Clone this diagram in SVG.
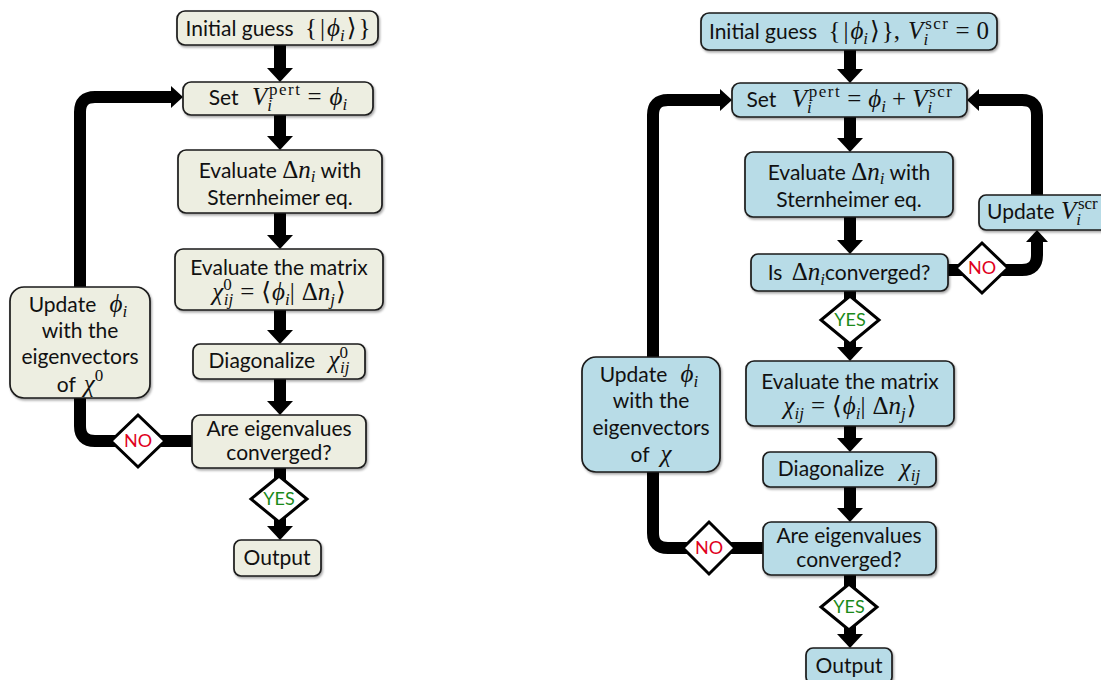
<svg xmlns="http://www.w3.org/2000/svg" width="1101" height="680" viewBox="0 0 1101 680">
<style>
.t{font-family:Lato,"Liberation Sans",sans-serif;font-size:21px;fill:#111}
.c{text-anchor:middle}
.mi{font-family:"Liberation Serif","DejaVu Serif",serif;font-style:italic;font-size:25px}
.mr{font-family:"Liberation Serif","DejaVu Serif",serif;font-style:normal;font-size:25px}
.sm{font-size:17px}
.ls{letter-spacing:1.5px}
.bl{fill:#EDEEE1;stroke:#1a1a1a;stroke-width:1.7;filter:url(#sh)}
.br{fill:#B8DCE7;stroke:#1a1a1a;stroke-width:1.7;filter:url(#sh)}
.ln{fill:none;stroke:#000;stroke-width:12;stroke-linejoin:round}
.dm{fill:#fff;stroke:#000;stroke-width:3;stroke-linejoin:miter}
.yes{font-family:Lato,"Liberation Sans",sans-serif;font-size:18px;fill:#1A8A1A;text-anchor:middle}
.no{font-family:Lato,"Liberation Sans",sans-serif;font-size:18px;fill:#E0001B;text-anchor:middle}
</style>
<defs>
<filter id="sh" x="-10%" y="-10%" width="125%" height="140%"><feDropShadow dx="1.2" dy="1.8" stdDeviation="0.9" flood-color="#000" flood-opacity="0.35"/></filter>
<marker id="ah" markerUnits="userSpaceOnUse" markerWidth="14" markerHeight="26" viewBox="0 0 14 26" refX="1" refY="13" orient="auto"><path d="M0,0 L14,13 L0,26 Z" fill="#000"/></marker>
<marker id="as" markerUnits="userSpaceOnUse" markerWidth="12" markerHeight="22" viewBox="0 0 12 22" refX="1" refY="11" orient="auto"><path d="M0,0 L12,11 L0,22 Z" fill="#000"/></marker>
</defs>

<g id="connectors">
  <!-- left chart -->
  <path class="ln" d="M280,45 V69" marker-end="url(#ah)"/>
  <path class="ln" d="M280,115 V137" marker-end="url(#ah)"/>
  <path class="ln" d="M280,213 V236" marker-end="url(#ah)"/>
  <path class="ln" d="M280,310 V331" marker-end="url(#ah)"/>
  <path class="ln" d="M280,379 V402" marker-end="url(#ah)"/>
  <path class="ln" d="M280,468 V485"/>
  <path class="ln" d="M280,515 V527" marker-end="url(#ah)"/>
  <path class="ln" d="M193,441 H95 Q80,441 80,426 V396"/>
  <path class="ln" d="M80,289 V112 Q80,97 95,97 H172" marker-end="url(#as)"/>
  <!-- right chart -->
  <path class="ln" d="M850,50 V70" marker-end="url(#ah)"/>
  <path class="ln" d="M850,117 V139" marker-end="url(#ah)"/>
  <path class="ln" d="M850,217 V241" marker-end="url(#ah)"/>
  <path class="ln" d="M850,291 V305"/>
  <path class="ln" d="M850,335 V348" marker-end="url(#ah)"/>
  <path class="ln" d="M850,426 V439" marker-end="url(#ah)"/>
  <path class="ln" d="M850,487 V509" marker-end="url(#ah)"/>
  <path class="ln" d="M850,575 V592"/>
  <path class="ln" d="M850,622 V635" marker-end="url(#ah)"/>
  <path class="ln" d="M764,548 H668 Q653,548 653,533 V470"/>
  <path class="ln" d="M653,359 V115 Q653,100 668,100 H721" marker-end="url(#as)"/>
  <path class="ln" d="M947,270 H1022 Q1037,270 1037,255 V241" marker-end="url(#as)"/>
  <path class="ln" d="M1037,197 V115 Q1037,100 1022,100 H978" marker-end="url(#as)"/>
</g>

<!-- left chart nodes -->
<g id="L-init">
  <rect class="bl" x="177" y="11" width="201" height="34" rx="8"/>
  <text class="t c" x="278" y="36">Initial guess <tspan class="mr" dx="6">{</tspan><tspan class="mr" dx="3">|</tspan><tspan class="mi" dx="2">ϕ</tspan><tspan class="mi sm" dy="5">i</tspan><tspan class="mr" dy="-5" dx="2">⟩</tspan><tspan class="mr" dx="2">}</tspan></text>
</g>
<g id="L-set">
  <rect class="bl" x="183" y="82" width="190" height="33" rx="8"/>
  <text class="t c" x="278" y="105">Set <tspan class="mi" dx="8">V</tspan><tspan class="mi sm" dy="6">i</tspan><tspan class="mr sm ls" dx="-3" dy="-16">pert</tspan><tspan class="mr" dx="6" dy="10">=</tspan><tspan class="mi" dx="8">ϕ</tspan><tspan class="mi sm" dy="5">i</tspan></text>
</g>
<g id="L-eval-dn">
  <rect class="bl" x="178" y="150" width="204" height="63" rx="8"/>
  <text class="t c" x="280" y="178">Evaluate <tspan class="mr">Δ</tspan><tspan class="mi">n</tspan><tspan class="mi sm" dy="4">i</tspan><tspan dy="-4"> with</tspan></text>
  <text class="t c" x="280" y="205">Sternheimer eq.</text>
</g>
<g id="L-eval-chi">
  <rect class="bl" x="175" y="249" width="208" height="61" rx="8"/>
  <text class="t c" x="279" y="275">Evaluate the matrix</text>
  <text class="t c" x="279" y="300"><tspan class="mi">χ</tspan><tspan class="mr sm" dy="-10">0</tspan><tspan class="mi sm" dx="-8" dy="15">ij</tspan><tspan class="mr" dx="7" dy="-5">=</tspan><tspan class="mr" dx="7">⟨</tspan><tspan class="mi" dx="1">ϕ</tspan><tspan class="mi sm" dy="5">i</tspan><tspan class="mr" dy="-5">|</tspan><tspan class="mr" dx="7">Δ</tspan><tspan class="mi">n</tspan><tspan class="mi sm" dy="5">j</tspan><tspan class="mr" dy="-5" dx="1">⟩</tspan></text>
</g>
<g id="L-diag">
  <rect class="bl" x="193" y="344" width="172" height="35" rx="7"/>
  <text class="t c" x="279" y="368">Diagonalize <tspan class="mi" dx="8">χ</tspan><tspan class="mr sm" dy="-10">0</tspan><tspan class="mi sm" dx="-8" dy="15">ij</tspan></text>
</g>
<g id="L-conv">
  <rect class="bl" x="192" y="415" width="174" height="53" rx="8"/>
  <text class="t c" x="279" y="436">Are eigenvalues</text>
  <text class="t c" x="279" y="460">converged?</text>
</g>
<g id="L-out">
  <rect class="bl" x="234" y="540" width="87" height="36" rx="7"/>
  <text class="t c" x="277" y="565">Output</text>
</g>
<g id="L-update">
  <rect class="bl" x="10" y="287" width="140" height="111" rx="14"/>
  <text class="t c" x="78" y="312">Update <tspan class="mi" dx="8">ϕ</tspan><tspan class="mi sm" dy="5">i</tspan></text>
  <text class="t c" x="80" y="338">with the</text>
  <text class="t c" x="80" y="364">eigenvectors</text>
  <text class="t c" x="80" y="392">of <tspan class="mi" dx="3">χ</tspan><tspan class="mr sm" dy="-11">0</tspan></text>
</g>
<g id="L-yes">
  <polygon class="dm" points="279,476 307,499 279,522 251,499"/>
  <text class="yes" x="279" y="505">YES</text>
</g>
<g id="L-no">
  <polygon class="dm" points="138,415 165,441 138,467 111,441"/>
  <text class="no" x="138" y="447">NO</text>
</g>

<!-- right chart nodes -->
<g id="R-init">
  <rect class="br" x="701" y="13" width="296" height="37" rx="8"/>
  <text class="t c" x="849" y="39">Initial guess <tspan class="mr" dx="6">{</tspan><tspan class="mr" dx="3">|</tspan><tspan class="mi" dx="2">ϕ</tspan><tspan class="mi sm" dy="5">i</tspan><tspan class="mr" dy="-5" dx="2">⟩</tspan><tspan class="mr" dx="2">},</tspan><tspan class="mi" dx="8">V</tspan><tspan class="mi sm" dy="6">i</tspan><tspan class="mr sm ls" dx="-3" dy="-16">scr</tspan><tspan class="mr" dx="6" dy="10">=</tspan><tspan class="mr" dx="7">0</tspan></text>
</g>
<g id="R-set">
  <rect class="br" x="732" y="83" width="235" height="34" rx="8"/>
  <text class="t c" x="850" y="107">Set <tspan class="mi" dx="10">V</tspan><tspan class="mi sm" dy="6">i</tspan><tspan class="mr sm ls" dx="-3" dy="-16">pert</tspan><tspan class="mr" dx="6" dy="10">=</tspan><tspan class="mi" dx="7">ϕ</tspan><tspan class="mi sm" dy="5">i</tspan><tspan class="mr" dx="6" dy="-5">+</tspan><tspan class="mi" dx="6">V</tspan><tspan class="mi sm" dy="6">i</tspan><tspan class="mr sm ls" dx="-3" dy="-16">scr</tspan></text>
</g>
<g id="R-eval-dn">
  <rect class="br" x="745" y="152" width="208" height="65" rx="8"/>
  <text class="t c" x="849" y="180">Evaluate <tspan class="mr">Δ</tspan><tspan class="mi">n</tspan><tspan class="mi sm" dy="4">i</tspan><tspan dy="-4"> with</tspan></text>
  <text class="t c" x="849" y="207">Sternheimer eq.</text>
</g>
<g id="R-conv-dn">
  <rect class="br" x="751" y="254" width="197" height="37" rx="7"/>
  <text class="t c" x="849" y="280">Is <tspan class="mr" dx="4">Δ</tspan><tspan class="mi">n</tspan><tspan class="mi sm" dy="5">i</tspan><tspan dy="-5">converged?</tspan></text>
</g>
<g id="R-eval-chi">
  <rect class="br" x="746" y="361" width="208" height="65" rx="8"/>
  <text class="t c" x="850" y="389">Evaluate the matrix</text>
  <text class="t c" x="850" y="414"><tspan class="mi">χ</tspan><tspan class="mi sm" dy="5">ij</tspan><tspan class="mr" dx="7" dy="-5">=</tspan><tspan class="mr" dx="7">⟨</tspan><tspan class="mi" dx="1">ϕ</tspan><tspan class="mi sm" dy="5">i</tspan><tspan class="mr" dy="-5">|</tspan><tspan class="mr" dx="7">Δ</tspan><tspan class="mi">n</tspan><tspan class="mi sm" dy="5">j</tspan><tspan class="mr" dy="-5" dx="1">⟩</tspan></text>
</g>
<g id="R-diag">
  <rect class="br" x="763" y="452" width="173" height="35" rx="7"/>
  <text class="t c" x="849" y="476">Diagonalize <tspan class="mi" dx="10">χ</tspan><tspan class="mi sm" dy="5">ij</tspan></text>
</g>
<g id="R-conv">
  <rect class="br" x="763" y="522" width="173" height="53" rx="8"/>
  <text class="t c" x="849" y="543">Are eigenvalues</text>
  <text class="t c" x="849" y="567">converged?</text>
</g>
<g id="R-out">
  <rect class="br" x="806" y="648" width="86" height="36" rx="7"/>
  <text class="t c" x="849" y="673">Output</text>
</g>
<g id="R-update-phi">
  <rect class="br" x="582" y="357" width="138" height="115" rx="14"/>
  <text class="t c" x="649" y="382">Update <tspan class="mi" dx="8">ϕ</tspan><tspan class="mi sm" dy="5">i</tspan></text>
  <text class="t c" x="651" y="408">with the</text>
  <text class="t c" x="651" y="435">eigenvectors</text>
  <text class="t c" x="651" y="462">of <tspan class="mi" dx="6">χ</tspan></text>
</g>
<g id="R-update-scr">
  <rect class="br" x="979" y="195" width="136" height="35" rx="7"/>
  <text class="t" x="987" y="219">Update <tspan class="mi" dx="1">V</tspan><tspan class="mi sm" dy="6">i</tspan><tspan class="mr sm" dx="-3" dy="-16">scr</tspan></text>
</g>
<g id="R-yes1">
  <polygon class="dm" points="850,296 879,320 850,344 821,320"/>
  <text class="yes" x="850" y="326">YES</text>
</g>
<g id="R-no1">
  <polygon class="dm" points="982,243 1008,268 982,293 956,268"/>
  <text class="no" x="982" y="274">NO</text>
</g>
<g id="R-yes2">
  <polygon class="dm" points="849,584 877,607 849,630 821,607"/>
  <text class="yes" x="849" y="613">YES</text>
</g>
<g id="R-no2">
  <polygon class="dm" points="709,522 735,548 709,574 683,548"/>
  <text class="no" x="709" y="554">NO</text>
</g>
</svg>
